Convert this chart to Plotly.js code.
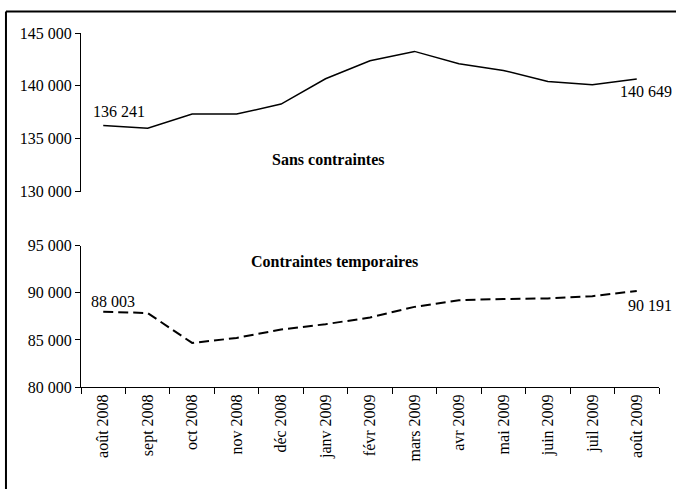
<!DOCTYPE html>
<html>
<head>
<meta charset="utf-8">
<script src="https://cdn.plot.ly/plotly-3.0.1.min.js"></script>
<style>html,body{margin:0;padding:0;background:#fff;}#chart{width:676px;height:489px;}</style>
</head>
<body>
<div id="chart"></div>
<script>
const months = ["août 2008","sept 2008","oct 2008","nov 2008","déc 2008","janv 2009","févr 2009","mars 2009","avr 2009","mai 2009","juin 2009","juil 2009","août 2009"];
const sansContraintes = [136241,136000,137330,137330,138280,140670,142380,143260,142090,141460,140420,140100,140649];
const contraintesTemporaires = [88003,87850,84680,85210,86100,86670,87380,88510,89220,89350,89400,89650,90191];
const seriesNames = ["Sans contraintes","Contraintes temporaires"];
const topTicks = [130000,135000,140000,145000];
const bottomTicks = [80000,85000,90000,95000];

function fmt(v){ return String(v).replace(/\B(?=(\d{3})+(?!\d))/g, " "); }

const FAM = "'Liberation Serif', 'Times New Roman', Times, serif";
const font = {family:FAM, size:16, color:"#000"};
const boldFont = {family:FAM, size:16, color:"#000", weight:"bold"};

const traces = [
  {x: months, y: sansContraintes, xaxis:"x2", yaxis:"y2", type:"scatter", mode:"lines",
   line:{color:"#000", width:1.5}, name:seriesNames[0], hoverinfo:"skip"},
  {x: months, y: contraintesTemporaires, xaxis:"x", yaxis:"y", type:"scatter", mode:"lines",
   line:{color:"#000", width:2, dash:"10px,5px"}, name:seriesNames[1], hoverinfo:"skip"}
];

const n = months.length;
const annotations = [
  {xref:"x2", yref:"y2", x:months[0], y:sansContraintes[0], text:fmt(sansContraintes[0]), showarrow:false, xanchor:"left", yanchor:"middle", xshift:-12, yshift:14, font:font},
  {xref:"x2", yref:"y2", x:months[n-1], y:sansContraintes[n-1], text:fmt(sansContraintes[n-1]), showarrow:false, xanchor:"left", yanchor:"middle", xshift:-19, yshift:-12, font:font},
  {xref:"x", yref:"y", x:months[0], y:contraintesTemporaires[0], text:fmt(contraintesTemporaires[0]), showarrow:false, xanchor:"left", yanchor:"middle", xshift:-14, yshift:10, font:font},
  {xref:"x", yref:"y", x:months[n-1], y:contraintesTemporaires[n-1], text:fmt(contraintesTemporaires[n-1]), showarrow:false, xanchor:"left", yanchor:"middle", xshift:-11, yshift:-14, font:font},
  {xref:"paper", yref:"paper", x:0.427, y:0.644, text:seriesNames[0], showarrow:false, xanchor:"center", yanchor:"middle", font:boldFont},
  {xref:"paper", yref:"paper", x:0.439, y:0.353, text:seriesNames[1], showarrow:false, xanchor:"center", yanchor:"middle", font:boldFont}
];

const yCommon = {showgrid:false, zeroline:false, showline:true, linecolor:"#000", linewidth:1,
  ticks:"outside", ticklen:5, tickcolor:"#000", tickformat:",d", tickfont:font, fixedrange:true};

const layout = {
  width:676, height:489,
  margin:{l:81, r:17, t:33, b:102},
  paper_bgcolor:"#fff", plot_bgcolor:"#fff",
  separators:", ",
  showlegend:false,
  font:font,
  xaxis:{type:"category", categoryarray:months, range:[-0.5, n-0.5], anchor:"y", domain:[0,1],
    showline:true, linecolor:"#000", linewidth:1, ticks:"outside", ticklen:6, tickcolor:"#000",
    tickson:"boundaries", tickangle:-90, tickfont:font, showgrid:false, zeroline:false},
  xaxis2:{type:"category", categoryarray:months, range:[-0.5, n-0.5], anchor:"y2", domain:[0,1], visible:false},
  yaxis:Object.assign({}, yCommon, {domain:[0,0.399], range:[80000,95000], tickvals:bottomTicks, anchor:"x"}),
  yaxis2:Object.assign({}, yCommon, {domain:[0.552,1], range:[130000,145000], tickvals:topTicks, anchor:"x2"}),
  annotations:annotations,
  shapes:[
    {type:"line", xref:"paper", yref:"paper", x0:-0.1298, x1:1.1, y0:1.0607, y1:1.0607, line:{color:"#000", width:2}, layer:"above"},
    {type:"line", xref:"paper", yref:"paper", x0:-0.1298, x1:-0.1298, y0:-0.4, y1:1.0607, line:{color:"#000", width:2}, layer:"above"}
  ]
};

Plotly.newPlot("chart", traces, layout, {staticPlot:true, displayModeBar:false});
</script>
</body>
</html>
